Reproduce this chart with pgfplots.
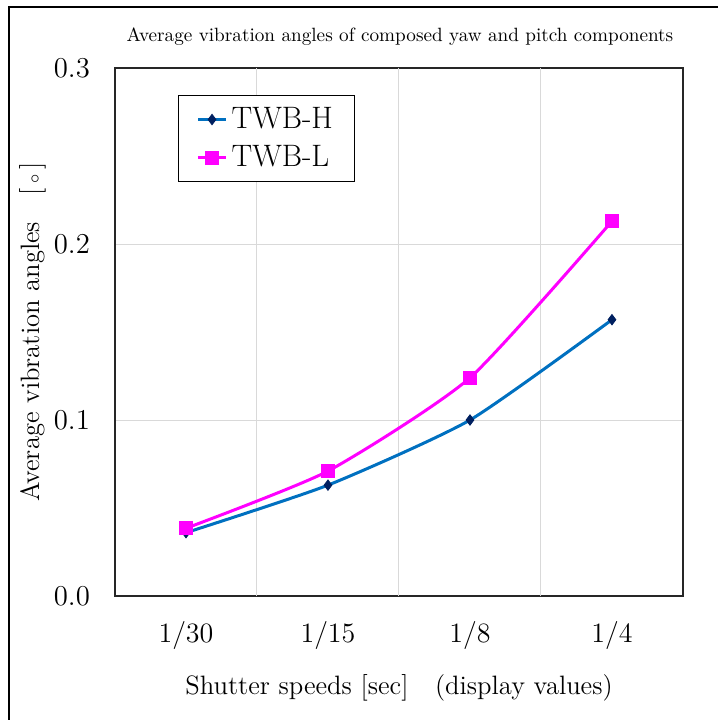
\documentclass[border=0pt]{standalone}
\usepackage{pgfplots}
\pgfplotsset{compat=1.18}
\definecolor{lineH}{RGB}{0,112,192}
\definecolor{markH}{RGB}{0,32,96}
\definecolor{lineL}{RGB}{255,0,255}
\definecolor{gridc}{RGB}{217,217,217}
\begin{document}
\begin{tikzpicture}
% page: 718x720 px at 0.5pt per px
\path[use as bounding box] (0pt,0pt) rectangle (359pt,-360pt);
\draw[black, line width=0.6pt] (4.5pt,-360pt) -- (4.5pt,-3.5pt) -- (359pt,-3.5pt);
\node[font=\fontsize{9.6}{11}\selectfont] at (200pt,-18.5pt)
  {Average vibration angles of composed yaw and pitch components};
\begin{axis}[
    at={(57.5pt,-298pt)}, anchor=south west,
    width=284pt, height=264pt, scale only axis,
    xmin=0, xmax=4, ymin=0, ymax=0.3,
    xtick={0.5,1.5,2.5,3.5},
    xticklabels={1/30,1/15,1/8,1/4},
    extra x ticks={1,2,3},
    extra x tick labels={},
    extra x tick style={grid=major},
    ytick={0,0.1,0.2,0.3},
    ymajorgrids=true,
    grid style={gridc, line width=0.5pt},
    major tick length=0pt,
    axis line style={black!85, line width=0.6pt},
    tick label style={font=\fontsize{14}{16}\selectfont},
    yticklabel style={xshift=-9pt, /pgf/number format/.cd, fixed, fixed zerofill, precision=1},
    xticklabel style={yshift=-9pt},
    xlabel={Shutter speeds [sec]\quad(display values)},
    ylabel={Average vibration angles\quad[\,$\scriptstyle\circ$\,]},
    label style={font=\fontsize{13.3}{16}\selectfont},
    xlabel style={at={(axis description cs:0.5,0)}, anchor=center, yshift=-46pt},
    ylabel style={at={(axis description cs:0,0.5)}, anchor=center, yshift=41pt},
    legend style={at={(0.111,0.949)}, anchor=north west, draw=black, line width=0.5pt,
      font=\fontsize{15.5}{18}\selectfont, inner xsep=9pt, inner ysep=4pt,
      row sep=3pt, cells={anchor=west}},
    legend image code/.code={\draw[mark repeat=2,mark phase=2,#1]
      plot coordinates {(0pt,0pt)(7pt,0pt)(14pt,0pt)};},
]
\addplot[lineH, line width=1.5pt, smooth, tension=0.35,
  mark=diamond*, mark size=2.6pt, mark options={fill=markH, draw=markH, line width=0.4pt}]
  coordinates {(0.5,0.036) (1.5,0.063) (2.5,0.100) (3.5,0.157)};
\addlegendentry{TWB-H}
\addplot[lineL, line width=1.5pt, smooth, tension=0.35,
  mark=square*, mark size=2.8pt, mark options={fill=lineL, draw=lineL}]
  coordinates {(0.5,0.0385) (1.5,0.071) (2.5,0.124) (3.5,0.213)};
\addlegendentry{TWB-L}
\end{axis}
\end{tikzpicture}
\end{document}
